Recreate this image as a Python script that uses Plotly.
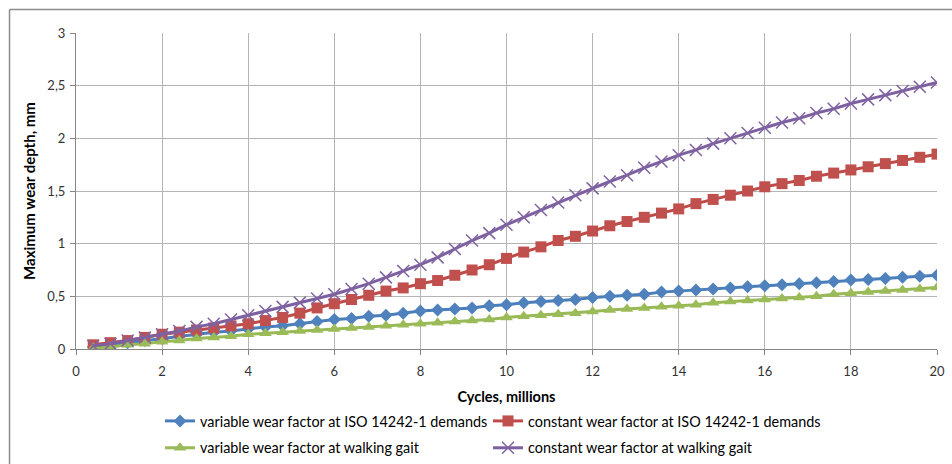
import plotly.graph_objects as go

cycles = [0.4, 0.8, 1.2, 1.6, 2.0, 2.4, 2.8, 3.2, 3.6, 4.0,
          4.4, 4.8, 5.2, 5.6, 6.0, 6.4, 6.8, 7.2, 7.6, 8.0,
          8.4, 8.8, 9.2, 9.6, 10.0, 10.4, 10.8, 11.2, 11.6, 12.0,
          12.4, 12.8, 13.2, 13.6, 14.0, 14.4, 14.8, 15.2, 15.6, 16.0,
          16.4, 16.8, 17.2, 17.6, 18.0, 18.4, 18.8, 19.2, 19.6, 20.0]

var_iso = [0.02, 0.04, 0.06, 0.08, 0.10, 0.12, 0.14, 0.16, 0.17, 0.19,
           0.21, 0.22, 0.24, 0.26, 0.28, 0.29, 0.31, 0.32, 0.34, 0.36,
           0.37, 0.38, 0.39, 0.41, 0.42, 0.44, 0.45, 0.46, 0.47, 0.49,
           0.50, 0.51, 0.52, 0.54, 0.55, 0.56, 0.57, 0.58, 0.59, 0.60,
           0.61, 0.62, 0.63, 0.64, 0.655, 0.66, 0.67, 0.68, 0.69, 0.70]

const_iso = [0.04, 0.06, 0.08, 0.11, 0.14, 0.16, 0.18, 0.20, 0.22, 0.24,
             0.27, 0.30, 0.34, 0.39, 0.43, 0.47, 0.51, 0.55, 0.58, 0.62,
             0.65, 0.70, 0.75, 0.80, 0.86, 0.92, 0.97, 1.03, 1.07, 1.12,
             1.17, 1.21, 1.25, 1.29, 1.33, 1.38, 1.42, 1.46, 1.50, 1.54,
             1.57, 1.60, 1.64, 1.67, 1.70, 1.73, 1.76, 1.79, 1.82, 1.85]

var_walk = [0.01, 0.02, 0.04, 0.05, 0.07, 0.08, 0.10, 0.11, 0.12, 0.14,
            0.15, 0.16, 0.17, 0.18, 0.19, 0.20, 0.21, 0.22, 0.23, 0.24,
            0.25, 0.26, 0.27, 0.28, 0.30, 0.31, 0.32, 0.33, 0.34, 0.355,
            0.37, 0.38, 0.39, 0.40, 0.41, 0.42, 0.44, 0.45, 0.46, 0.47,
            0.48, 0.49, 0.50, 0.52, 0.53, 0.54, 0.55, 0.56, 0.57, 0.585]

const_walk = [0.03, 0.05, 0.08, 0.11, 0.14, 0.17, 0.21, 0.24, 0.28, 0.32,
              0.36, 0.40, 0.44, 0.48, 0.52, 0.57, 0.62, 0.68, 0.74, 0.80,
              0.87, 0.95, 1.03, 1.10, 1.18, 1.25, 1.32, 1.39, 1.46, 1.525,
              1.59, 1.65, 1.72, 1.78, 1.84, 1.89, 1.95, 2.00, 2.05, 2.10,
              2.15, 2.19, 2.24, 2.28, 2.33, 2.37, 2.41, 2.45, 2.49, 2.53]

names = ["variable wear factor at ISO 14242-1 demands",
         "constant wear factor at ISO 14242-1 demands",
         "variable wear factor at walking gait",
         "constant wear factor at walking gait"]

FONT = "Lato"

fig = go.Figure()
fig.add_trace(go.Scatter(x=cycles, y=var_iso, name=names[0], mode="lines+markers",
                         line=dict(color="#4A7EBB", width=3),
                         marker=dict(symbol="diamond", size=10, color="#4F81BD"),
                         showlegend=True, legend="legend"))
fig.add_trace(go.Scatter(x=cycles, y=const_iso, name=names[1], mode="lines+markers",
                         line=dict(color="#BE4B48", width=3),
                         marker=dict(symbol="square", size=11, color="#C0504D"),
                         showlegend=True, legend="legend2"))
fig.add_trace(go.Scatter(x=cycles, y=var_walk, name=names[2], mode="lines+markers",
                         line=dict(color="#98B954", width=3),
                         marker=dict(symbol="triangle-up", size=11, color="#9BBB59"),
                         showlegend=True, legend="legend3"))
fig.add_trace(go.Scatter(x=cycles, y=const_walk, name=names[3], mode="lines+markers",
                         line=dict(color="#7D60A0", width=3),
                         marker=dict(symbol="x-thin", size=12,
                                     line=dict(color="#8064A2", width=1.5)),
                         showlegend=True, legend="legend4"))

axis_common = dict(showline=True, linecolor="#868686", linewidth=1,
                   gridcolor="#B4B4B4", gridwidth=1, zeroline=False,
                   ticks="outside", ticklen=5, tickcolor="#868686",
                   tickfont=dict(family=FONT, size=13, color="#333333"))

def leg(x, y):
    return dict(orientation="h", x=x, y=y, xanchor="left", yanchor="middle",
                font=dict(family=FONT, size=14.4, color="#000000"),
                bgcolor="rgba(0,0,0,0)", visible=True)

fig.update_layout(
    width=952, height=464,
    showlegend=True,
    margin=dict(l=76, r=15, t=33, b=115, autoexpand=False),
    paper_bgcolor="white", plot_bgcolor="white",
    separators=", ",
    font=dict(family=FONT, size=13, color="#000000"),
    xaxis=dict(range=[0, 20], dtick=2, tick0=0, ticklabelstandoff=5,
               title=dict(text="<b>Cycles, millions</b>", font=dict(family=FONT, size=14.5),
                          standoff=14),
               **axis_common),
    yaxis=dict(range=[0, 3], dtick=0.5, tick0=0, ticklabelstandoff=2,
               title=dict(text="<b>Maximum wear depth, mm</b>", font=dict(family=FONT, size=15),
                          standoff=8),
               **axis_common),
    legend=leg(0.0976, -0.228),
    legend2=leg(0.4785, -0.228),
    legend3=leg(0.0976, -0.313),
    legend4=leg(0.4785, -0.313),
    shapes=[
        dict(type="line", xref="paper", yref="paper", x0=-0.0772, x1=-0.0772,
             y0=1.0744, y1=-0.5, line=dict(color="#8C8C8C", width=1.5)),
        dict(type="line", xref="paper", yref="paper", x0=-0.0772, x1=1.1,
             y0=1.0744, y1=1.0744, line=dict(color="#8C8C8C", width=1.5)),
    ],
)

fig.write_html("out.html")
